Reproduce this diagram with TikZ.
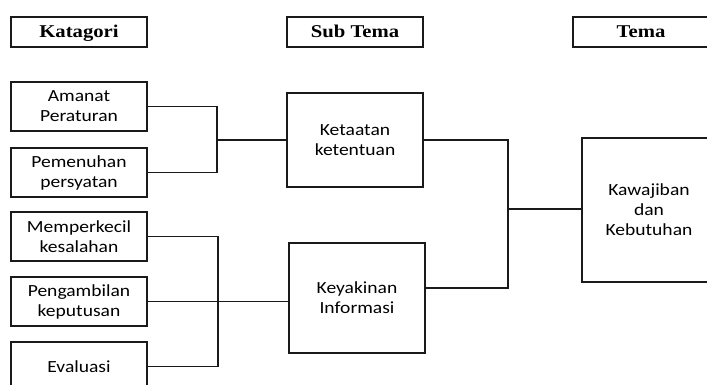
\documentclass[tikz,border=0pt]{standalone}
\usepackage{fontspec}
\setmainfont{Carlito}[FakeStretch=1.15]
\newfontfamily\headfont{Liberation Serif}[FakeStretch=1.15]
\usetikzlibrary{positioning,calc}
\definecolor{ink}{HTML}{1A1A1A}

\begin{document}
\begin{tikzpicture}[
  x=1pt,y=-1pt,
  font=\fontsize{17}{20}\selectfont,
  head/.style={draw=ink,line width=1.6pt,minimum width=136pt,minimum height=30pt,inner sep=1pt,
    text height=12pt,text depth=0pt,font=\headfont\bfseries\fontsize{18}{20}\selectfont},
  kat/.style={draw=ink,line width=1.6pt,minimum width=136pt,minimum height=49pt,inner sep=1pt,align=center},
  sub/.style={draw=ink,line width=1.6pt,minimum width=136pt,inner sep=1pt,align=center},
  link/.style={draw=ink,line width=1.3pt}
]
\useasboundingbox (0,0) rectangle (707,385);
% headers
\node[head] (hkat) at (79,32) {Katagori};
\node[head] (hsub) at (355,32) {Sub Tema};
\node[head] (htema) at (641,32) {Tema};
% categories
\node[kat] (amanat) at (79,106.5) {Amanat\\Peraturan};
\node[kat] (pemenuhan) at (79,172.5) {Pemenuhan\\persyatan};
\node[kat] (memperkecil) at (79,236.5) {Memperkecil\\kesalahan};
\node[kat] (pengambilan) at (79,301.5) {Pengambilan\\keputusan};
\node[kat] (evaluasi) at (79,366.5) {Evaluasi};
% sub themes
\node[sub,minimum height=94pt] (ketaatan) at (355,140) {Ketaatan\\ketentuan};
\node[sub,minimum height=110pt] (keyakinan) at (357,298) {Keyakinan\\Informasi};
% theme
\node[sub,minimum width=134pt,minimum height=144pt] (kawajiban) at (649,210) {Kawajiban\\dan\\Kebutuhan};
% links
\coordinate (j1) at (217,140);
\coordinate (j2) at (218,301.5);
\coordinate (j3) at (508,209);
\draw[link] (amanat.east) -| (j1) -- (ketaatan.west);
\draw[link] (pemenuhan.east) -| (j1);
\draw[link] (memperkecil.east) -| (j2);
\draw[link] (evaluasi.east) -| (j2);
\draw[link] (pengambilan.east) -- (j2) -- (j2 -| keyakinan.west);
\draw[link] (ketaatan.east) -| (j3);
\draw[link] ([yshift=10pt]keyakinan.east) -| (j3);
\draw[link] (j3) -- (j3 -| kawajiban.west);
\end{tikzpicture}
\end{document}
